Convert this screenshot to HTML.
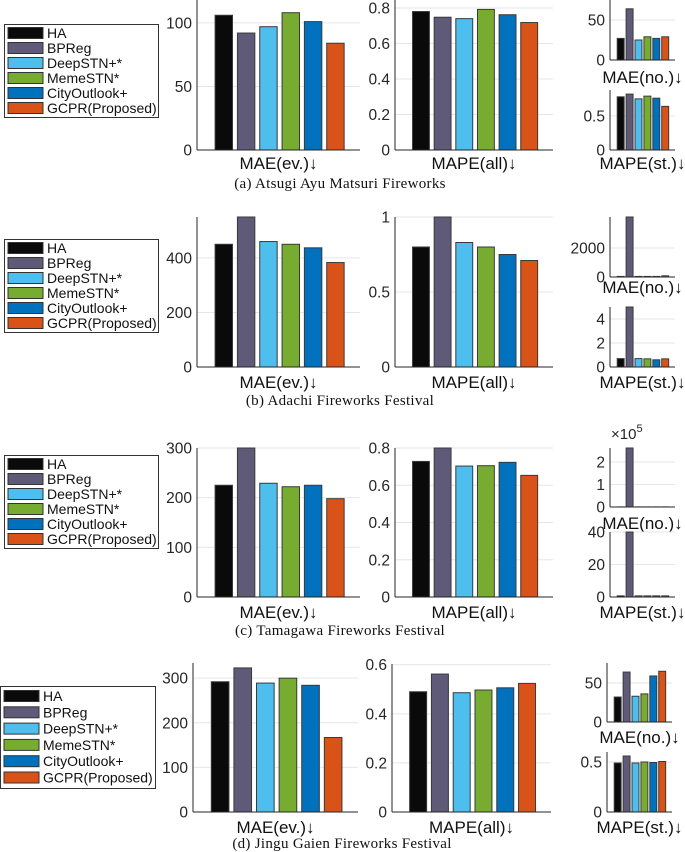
<!DOCTYPE html>
<html><head><meta charset="utf-8">
<style>
html,body{margin:0;padding:0;background:#fff;}
svg{display:block;font-family:"Liberation Sans",sans-serif;}
.cap{font-family:"Liberation Serif",serif;font-size:15px;letter-spacing:0.3px;}
</style></head>
<body>
<svg id="chart" width="685" height="852" viewBox="0 0 685 852"></svg>
<script>
const methods = ["HA","BPReg","DeepSTN+*","MemeSTN*","CityOutlook+","GCPR(Proposed)"];
const colors = ["#0a0a0a","#5e5a78","#4dbeee","#77ac30","#0072bd","#d95319"];
const captions = ["(a)  Atsugi Ayu Matsuri Fireworks","(b)  Adachi Fireworks Festival","(c)  Tamagawa Fireworks Festival","(d)  Jingu Gaien Fireworks Festival"];
// values per panel: [MAE(ev.), MAPE(all), MAE(no.), MAPE(st.)]
const maeEvA = [106,92,97,108,101,84];
const mapeAllA = [0.78,0.748,0.74,0.792,0.762,0.718];
const maeNoA = [27,64,25,29,27,29];
const mapeStA = [0.78,0.82,0.75,0.79,0.76,0.64];
const maeEvB = [450,560,460,450,437,383];
const mapeAllB = [0.80,1.05,0.83,0.80,0.75,0.71];
const maeNoB = [40,4200,40,40,40,80];
const mapeStB = [0.7,5.2,0.7,0.68,0.6,0.68];
const maeEvC = [225,310,229,222,225,198];
const mapeAllC = [0.728,0.82,0.703,0.705,0.723,0.653];
const maeNoC = [0.005,2.7,0.005,0.005,0.005,0.005];
const mapeStC = [0.7,41,0.7,0.7,0.7,0.7];
const maeEvD = [292,323,289,300,284,167];
const mapeAllD = [0.49,0.562,0.486,0.497,0.506,0.524];
const maeNoD = [32,64,33,36,59,65];
const mapeStD = [0.49,0.56,0.49,0.50,0.495,0.505];
// tick labels
const ticksA = [[0,50,100],[0,0.2,0.4,0.6,0.8],[0,50],[0,0.5]];
const ticksB = [[0,200,400],[0,0.5,1],[0,2000],[0,2,4]];
const ticksC = [[0,100,200,300],[0,0.2,0.4,0.6,0.8],[0,1,2],[0,20,40]];
const ticksD = [[0,100,200,300],[0,0.2,0.4,0.6],[0,50],[0,0.5]];
const ymaxA = [118,0.845,75,0.88];
const ymaxB = [550,1,4140,5];
const ymaxC = [300,0.8,2.62,40];
const ymaxD = [334,0.603,75.6,0.6];

const NS="http://www.w3.org/2000/svg";
const svg=document.getElementById('chart');
function mk(tag,attrs,parent){const e=document.createElementNS(NS,tag);for(const k in attrs)e.setAttribute(k,attrs[k]);(parent||svg).appendChild(e);return e;}

function axes(g,box,vals,ticks,ymax,label,labelY,name){
  const [L,R,T,B]=box;
  const ax=mk('g',{},g);
  
  
  const ys=v=>B-(v/ymax)*(B-T);
  ticks.forEach(t=>{
    const y=ys(t);
    if(t>0){const gl=mk('line',{x1:L,x2:R,y1:y,y2:y,stroke:'#e6e6e6','stroke-width':1},ax);
      }
    const tx=mk('text',{x:L-5,y:y+5.5,'text-anchor':'end','font-size':15.5,fill:'#262626'},ax);
    tx.textContent=String(t);
    
    
  });
  const step=(R-L)/7.3;
  vals.forEach((v,i)=>{
    const cx=L+1.2*step+i*step, w=step*0.78;
    const top=Math.max(ys(v),T);
    const r=mk('rect',{x:cx-w/2,y:top,width:w,height:B-top,fill:colors[i],stroke:'#3a3a3a','stroke-width':1},ax);
    
    
  });
  mk('line',{x1:L,x2:L,y1:T,y2:B,stroke:'#262626','stroke-width':1},ax);
  mk('line',{x1:L,x2:R,y1:B,y2:B,stroke:'#262626','stroke-width':1},ax);
  const lb=mk('text',{x:(L+R)/2,y:labelY+6,'text-anchor':'middle','font-size':17,fill:'#111'},ax);
  lb.textContent=label;
  
  
}

function legend(x,y,w,h,sp,first){
  const g=mk('g',{});
  
  
  mk('rect',{x:x+0.5,y:y+0.5,width:w,height:h,fill:'#fff',stroke:'#333','stroke-width':1},g);
  methods.forEach((m,i)=>{
    const cy=y+first+i*sp;
    const e=mk('g',{},g);
    
    
    mk('rect',{x:x+4,y:cy-5.5,width:35,height:11,fill:colors[i],stroke:'#333','stroke-width':1},e);
    const t=mk('text',{x:x+43,y:cy+5,'font-size':14,fill:'#111'},e);
    t.textContent=m;
  });
}

const panels=[
 {vals:[maeEvA,mapeAllA,maeNoA,mapeStA],ticks:ticksA,ymax:ymaxA,
  boxes:[[197,360,0,150],[395,553,0,150],[610,675,0,60],[610,675,90,150]],
  labY:[163,163,77,163],capY:183,leg:[4,24,154,93,15,9]},
 {vals:[maeEvB,mapeAllB,maeNoB,mapeStB],ticks:ticksB,ymax:ymaxB,
  boxes:[[197,360,217,367],[395,553,217,367],[610,675,217,277],[610,675,307,367]],
  labY:[382,382,287,382],capY:400,leg:[4,239,154,93,15,9]},
 {vals:[maeEvC,mapeAllC,maeNoC,mapeStC],ticks:ticksC,ymax:ymaxC,
  boxes:[[197,360,448,597],[395,553,448,597],[610,675,448,507],[610,675,532,597]],
  labY:[612,612,523,612],capY:630,leg:[4,455,154,93,15,9]},
 {vals:[maeEvD,mapeAllD,maeNoD,mapeStD],ticks:ticksD,ymax:ymaxD,
  boxes:[[193,358,663,812],[392,551,664,812],[607,672,663,722],[607,672,752,812]],
  labY:[827,827,737,827],capY:843,leg:[0,686,155,102,16.3,10]}
];
const labels=["MAE(ev.)\u2193","MAPE(all)\u2193","MAE(no.)\u2193","MAPE(st.)\u2193"];
const names=["mae-ev","mape-all","mae-no","mape-st"];
panels.forEach((p,pi)=>{
  const g=mk('g',{});
  
  
  for(let k=0;k<4;k++) axes(g,p.boxes[k],p.vals[k],p.ticks[k],p.ymax[k],labels[k],p.labY[k],names[k]);
  legend(...p.leg);
  const c=mk('text',{x:pi===3?342:340,y:p.capY+5,'text-anchor':'middle',class:'cap',fill:'#111'},g);
  c.textContent=captions[pi];
  
  
});
// exponent label for panel c
const ex=mk('text',{x:611,y:439,'font-size':15,fill:'#262626'});


ex.innerHTML='\u00d710<tspan dy="-7" font-size="11">5</tspan>';
</script>
</body></html>
